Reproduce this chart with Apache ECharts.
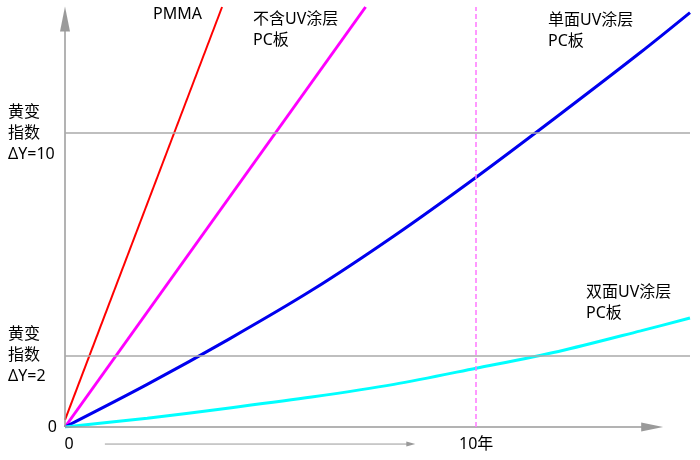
<!DOCTYPE html>
<html><head><meta charset="utf-8">
<script src="https://cdn.jsdelivr.net/npm/echarts@6/dist/echarts.min.js"></script>
<style>html,body{margin:0;padding:0;background:#fff}#c{width:700px;height:460px}</style>
</head><body><div id="c"></div>
<script>
// Years on x, relative yellowing index on y (schematic scale)
var pmma = [[0, 0.24], [3.82, 14.29]];
var noUV = [[0, 0], [7.31, 14.29]];
var singleUV = [[0,0],[2,1.45],[4,3.0],[6,4.65],[8,6.5],[10,8.5],[12,10.6],[14,12.75],[15.2,14.1]];
var doubleUV = [[0,0],[2,0.3],[4,0.65],[6,1.02],[8,1.45],[10,2.0],[12,2.57],[14,3.27],[15.2,3.71]];
var seriesNames = ['PMMA', '不含UV涂层\nPC板', '单面UV涂层\nPC板', '双面UV涂层\nPC板'];
var gridValues = [2.415, 10];
var gridLabels = ['黄变\n指数\nΔY=2', '黄变\n指数\nΔY=10'];
var xLabelValues = [0, 10];
var xLabelTexts = ['{z|0}', '10年'];
var markYear = 10;

var FONT = "'Noto Sans','Noto Sans CJK SC',sans-serif";
var FS = 16;
var chart = echarts.init(document.getElementById('c'));
function lineSeries(name, data, color, width) {
  return { name: name, type: 'line', data: data, showSymbol: false, smooth: 0.3, clip: true,
    lineStyle: { color: color, width: width }, silent: true, animation: false };
}
var axisGray = '#9a9a9a';
chart.setOption({
  animation: false,
  grid: { left: 65, right: 10, top: 7, bottom: 33 },
  xAxis: { type: 'value', min: 0, max: 15.2, splitLine: { show: false }, axisLine: { show: false }, axisTick: { show: false },
    axisLabel: { customValues: xLabelValues, margin: 9, fontSize: FS, color: '#000', fontFamily: FONT,
      rich: { z: { fontSize: FS, color: '#000', fontFamily: FONT, padding: [0, 0, 0, 8] } },
      formatter: function (v) { var i = xLabelValues.indexOf(v); return i >= 0 ? xLabelTexts[i] : ''; } } },
  yAxis: { type: 'value', min: 0, max: 14.29, splitLine: { show: false }, axisLine: { show: false }, axisTick: { show: false },
    axisLabel: { customValues: [0], margin: 8, fontSize: FS, color: '#000', fontFamily: FONT } },
  series: [
    {
      type: 'line', data: [], silent: true,
      markLine: {
        silent: true, animation: false, symbol: 'none',
        label: { show: false },
        data: [
          [{ coord: [0, 0], symbol: 'none', lineStyle: { color: axisGray, width: 1.5, type: 'solid' } },
           { coord: [0, 13.88], symbol: 'triangle', symbolSize: [10, 25] }],
          [{ coord: [0, 0], symbol: 'none', lineStyle: { color: axisGray, width: 1.5, type: 'solid' } },
           { coord: [14.28, 0], symbol: 'triangle', symbolSize: [9, 22] }],
          { yAxis: gridValues[0], lineStyle: { color: '#aaaaaa', width: 1.5, type: 'solid' },
            label: { show: true, position: 'start', align: 'left', distance: 57, formatter: gridLabels[0], fontSize: FS, lineHeight: 21, color: '#000', fontFamily: FONT, padding: [9, 0, 0, 0] } },
          { yAxis: gridValues[1], lineStyle: { color: '#aaaaaa', width: 1.5, type: 'solid' },
            label: { show: true, position: 'start', align: 'left', distance: 57, formatter: gridLabels[1], fontSize: FS, lineHeight: 21, color: '#000', fontFamily: FONT, padding: [13, 0, 0, 0] } },
          { xAxis: markYear, lineStyle: { color: '#ff77ff', width: 1.5, type: [5, 3] } }
        ]
      }
    },
    lineSeries(seriesNames[0], pmma, '#ff0000', 2),
    lineSeries(seriesNames[1], noUV, '#ff00ff', 3),
    lineSeries(seriesNames[2], singleUV, '#0000ee', 3),
    lineSeries(seriesNames[3], doubleUV, '#00ffff', 3)
  ]
});

var p0 = chart.convertToPixel({ gridIndex: 0 }, [0.97, -0.58]);
var p1 = chart.convertToPixel({ gridIndex: 0 }, [8.52, -0.58]);
function txt(x, y, s) {
  return { type: 'text', left: x, top: y, style: { text: s, font: FS + 'px ' + FONT, fill: '#000', lineHeight: 21 } };
}
chart.setOption({
  graphic: [
    { type: 'line', shape: { x1: p0[0], y1: p0[1], x2: p1[0] - 6, y2: p1[1] }, style: { stroke: '#999', lineWidth: 1 }, silent: true },
    { type: 'polygon', shape: { points: [[p1[0] - 9, p1[1] - 2.5], [p1[0], p1[1]], [p1[0] - 9, p1[1] + 2.5]] }, style: { fill: '#999' }, silent: true },
    txt(153, 4, seriesNames[0]),
    txt(253, 9, seriesNames[1]),
    txt(548, 10, seriesNames[2]),
    txt(586, 282, seriesNames[3])
  ]
});
</script></body></html>
